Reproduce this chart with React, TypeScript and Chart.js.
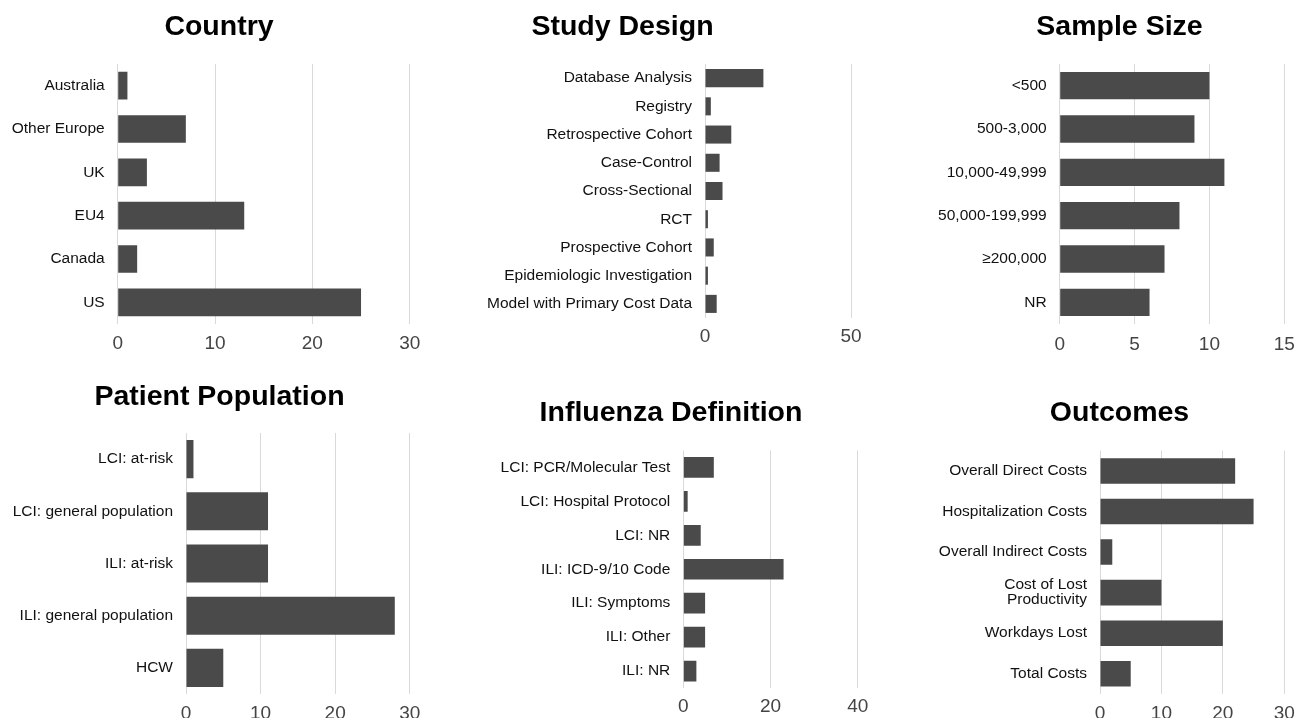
import React, { useEffect, useRef } from 'react';
import { Chart, registerables } from 'chart.js';

Chart.register(...registerables);

// ---------- DATA ----------
const countryLabels = ['Australia', 'Other Europe', 'UK', 'EU4', 'Canada', 'US'];
const countryValues = [1, 7, 3, 13, 2, 25];
const countryTicks = [0, 10, 20, 30];

const designLabels = [
  'Database Analysis',
  'Registry',
  'Retrospective Cohort',
  'Case-Control',
  'Cross-Sectional',
  'RCT',
  'Prospective Cohort',
  'Epidemiologic Investigation',
  'Model with Primary Cost Data',
];
const designValues = [20, 2, 9, 5, 6, 1, 3, 1, 4];
const designTicks = [0, 50];

const sampleLabels = ['<500', '500-3,000', '10,000-49,999', '50,000-199,999', '≥200,000', 'NR'];
const sampleValues = [10, 9, 11, 8, 7, 6];
const sampleTicks = [0, 5, 10, 15];

const populationLabels = [
  'LCI: at-risk',
  'LCI: general population',
  'ILI: at-risk',
  'ILI: general population',
  'HCW',
];
const populationValues = [1, 11, 11, 28, 5];
const populationTicks = [0, 10, 20, 30];

const definitionLabels = [
  'LCI: PCR/Molecular Test',
  'LCI: Hospital Protocol',
  'LCI: NR',
  'ILI: ICD-9/10 Code',
  'ILI: Symptoms',
  'ILI: Other',
  'ILI: NR',
];
const definitionValues = [7, 1, 4, 23, 5, 5, 3];
const definitionTicks = [0, 20, 40];

const outcomeLabels: (string | string[])[] = [
  'Overall Direct Costs',
  'Hospitalization Costs',
  'Overall Indirect Costs',
  ['Cost of Lost', 'Productivity'],
  'Workdays Lost',
  'Total Costs',
];
const outcomeValues = [22, 25, 2, 10, 20, 5];
const outcomeTicks = [0, 10, 20, 30];

// ---------- STYLE / LAYOUT ----------
const FONT = "'Liberation Sans', Arial, Helvetica, sans-serif";
const TITLE_SIZE = 28.5;
const BAR_COLOR = '#4a4a4a';
const GRID_COLOR = '#d9d9d9';
const X_AXIS_H = 40;

type Spec = {
  originX: number; // canvas left = left edge of the y-axis box
  top: number;
  titleCX: number;
  chartLeft: number;
  chartRight: number;
  chartTop: number;
  chartBottom: number;
  titleY: number;
  barPct: number;
  tickPad: number;
  labelLH?: number;
};

const specs: Spec[] = [
  { originX: 0, top: 0, titleCX: 219, chartLeft: 117.7, chartRight: 409.7, chartTop: 64, chartBottom: 324, titleY: 26.8, barPct: 0.64, tickPad: 8.5 },
  { originX: 372, top: 0, titleCX: 622.5, chartLeft: 705, chartRight: 851, chartTop: 64, chartBottom: 318.3, titleY: 26.8, barPct: 0.64, tickPad: 7.8 },
  { originX: 925, top: 0, titleCX: 1119.5, chartLeft: 1059.7, chartRight: 1284.3, chartTop: 64, chartBottom: 324, titleY: 26.8, barPct: 0.63, tickPad: 9 },
  { originX: 0, top: 360, titleCX: 219.5, chartLeft: 186, chartRight: 409.7, chartTop: 433, chartBottom: 694, titleY: 397.6, barPct: 0.73, tickPad: 8.6 },
  { originX: 462, top: 360, titleCX: 671, chartLeft: 683.3, chartRight: 857.7, chartTop: 450.5, chartBottom: 688, titleY: 412.8, barPct: 0.61, tickPad: 7.1 },
  { originX: 925, top: 360, titleCX: 1119.5, chartLeft: 1100, chartRight: 1284.3, chartTop: 450.7, chartBottom: 694, titleY: 413, barPct: 0.63, tickPad: 8.6, labelLH: 0.97 },
];

type PanelProps = {
  spec: Spec;
  title: string;
  labels: (string | string[])[];
  values: number[];
  ticks: number[];
};

function Panel({ spec, title, labels, values, ticks }: PanelProps) {
  const ref = useRef<HTMLCanvasElement>(null);
  const rightBox = 2 * spec.titleCX - spec.originX - spec.chartRight;
  const width = Math.round(spec.chartRight + rightBox - spec.originX);
  const height = Math.round(spec.chartBottom - spec.top + X_AXIS_H);

  useEffect(() => {
    const s = spec;
    const LH = TITLE_SIZE * 1.2;
    const padTop = s.titleY - s.top - LH / 2;
    const padBottom = s.chartTop - s.top - padTop - LH;
    const chart = new Chart(ref.current as HTMLCanvasElement, {
      type: 'bar',
      data: {
        labels: labels as any,
        datasets: [
          {
            data: values,
            xAxisID: 'x',
            yAxisID: 'y',
            backgroundColor: BAR_COLOR,
            borderWidth: 0,
            barPercentage: s.barPct,
            categoryPercentage: 1,
          },
        ],
      },
      options: {
        indexAxis: 'y',
        responsive: false,
        animation: false,
        events: [],
        layout: { padding: 0 },
        plugins: {
          legend: { display: false },
          tooltip: { enabled: false },
          title: {
            display: true,
            text: title,
            color: '#000',
            font: { family: FONT, size: TITLE_SIZE, weight: 'bold', lineHeight: 1.2 },
            padding: { top: padTop, bottom: padBottom },
          },
        },
        scales: {
          x: {
            type: 'linear',
            position: 'bottom',
            min: ticks[0],
            max: ticks[ticks.length - 1],
            ticks: {
              stepSize: ticks[1] - ticks[0],
              padding: s.tickPad,
              color: '#444',
              maxRotation: 0,
              font: { family: FONT, size: 19, lineHeight: 1.2 },
            },
            grid: { color: GRID_COLOR, lineWidth: 1, drawTicks: false },
            border: { display: false },
            afterFit: (a: any) => {
              a.height = X_AXIS_H;
            },
          },
          y: {
            type: 'category',
            position: 'left',
            ticks: {
              padding: 13,
              color: '#111',
              autoSkip: false,
              font: { family: FONT, size: 15.5, lineHeight: s.labelLH ?? 1.2 },
            },
            grid: { display: false, drawTicks: false },
            border: { display: false },
            afterFit: (a: any) => {
              a.width = s.chartLeft - s.originX;
            },
          },
          yRight: {
            type: 'linear',
            axis: 'y',
            position: 'right',
            display: true,
            ticks: { display: false },
            grid: { display: false, drawTicks: false },
            border: { display: false },
            afterFit: (a: any) => {
              a.width = rightBox;
            },
          },
        },
      } as any,
    });
    return () => chart.destroy();
  }, []);

  return (
    <canvas
      ref={ref}
      width={width}
      height={height}
      style={{ position: 'absolute', left: spec.originX, top: spec.top, display: 'block' }}
    />
  );
}

export default function App() {
  return (
    <div
      style={{
        position: 'absolute',
        left: 0,
        top: 0,
        width: 1304,
        height: 718,
        overflow: 'hidden',
        background: '#fff',
      }}
    >
      <Panel spec={specs[0]} title="Country" labels={countryLabels} values={countryValues} ticks={countryTicks} />
      <Panel spec={specs[1]} title="Study Design" labels={designLabels} values={designValues} ticks={designTicks} />
      <Panel spec={specs[2]} title="Sample Size" labels={sampleLabels} values={sampleValues} ticks={sampleTicks} />
      <Panel spec={specs[3]} title="Patient Population" labels={populationLabels} values={populationValues} ticks={populationTicks} />
      <Panel spec={specs[4]} title="Influenza Definition" labels={definitionLabels} values={definitionValues} ticks={definitionTicks} />
      <Panel spec={specs[5]} title="Outcomes" labels={outcomeLabels} values={outcomeValues} ticks={outcomeTicks} />
    </div>
  );
}
